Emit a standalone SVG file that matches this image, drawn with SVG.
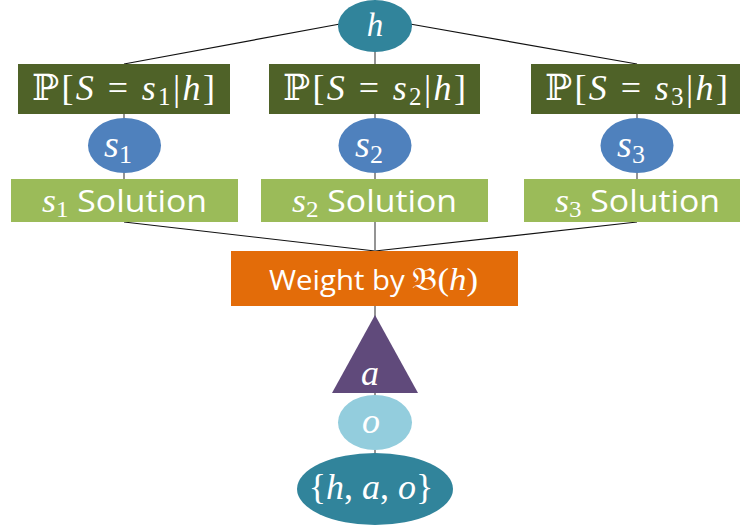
<svg xmlns="http://www.w3.org/2000/svg" width="740" height="527" viewBox="0 0 740 527">
<style>
.m{font-family:"Liberation Serif","DejaVu Serif",serif;fill:#fff}
.it{font-style:italic}
.t{font-family:"Open Sans","Liberation Sans",sans-serif;fill:#fff}
.d{stroke:#111;stroke-width:1.2}
.v{stroke:#707070;stroke-width:1.5}
.pb{fill:#4F6228}
.sb{fill:#9BBB59}
.se{fill:#4F81BD}
</style>
<rect width="740" height="527" fill="#fff"/>
<g id="connectors">
<line class="d" x1="340" y1="24" x2="124" y2="64"/>
<line class="d" x1="410" y1="24" x2="637" y2="64"/>
<line class="v" x1="375" y1="50" x2="375" y2="64"/>
<line class="v" x1="124" y1="114" x2="124" y2="179"/>
<line class="v" x1="375" y1="114" x2="375" y2="179"/>
<line class="v" x1="637" y1="114" x2="637" y2="179"/>
<line class="d" x1="124" y1="222" x2="375" y2="251"/>
<line class="d" x1="637" y1="222" x2="375" y2="251"/>
<line class="v" x1="375" y1="222" x2="375" y2="251"/>
<line class="v" x1="375" y1="306" x2="375" y2="320"/>
<line class="v" x1="375" y1="390" x2="375" y2="398"/>
<line class="v" x1="375" y1="447" x2="375" y2="456"/>
</g>
<g id="h">
<ellipse cx="375" cy="26" rx="37" ry="26" fill="#31849B"/>
<text class="m it" x="375" y="36" font-size="33" text-anchor="middle">h</text>
</g>
<g id="p1">
<rect class="pb" x="18" y="64" width="212" height="50"/>
<text class="m" x="32" y="100" font-size="36" textLength="183" lengthAdjust="spacing">ℙ[<tspan class="it">S</tspan> = <tspan class="it">s</tspan><tspan font-size="25" dy="5">1</tspan><tspan dy="-5">|</tspan><tspan class="it">h</tspan>]</text>
</g>
<g id="p2">
<rect class="pb" x="269" y="64" width="211" height="50"/>
<text class="m" x="283" y="100" font-size="36" textLength="183" lengthAdjust="spacing">ℙ[<tspan class="it">S</tspan> = <tspan class="it">s</tspan><tspan font-size="25" dy="5">2</tspan><tspan dy="-5">|</tspan><tspan class="it">h</tspan>]</text>
</g>
<g id="p3">
<rect class="pb" x="531" y="64" width="212" height="50"/>
<text class="m" x="545" y="100" font-size="36" textLength="183" lengthAdjust="spacing">ℙ[<tspan class="it">S</tspan> = <tspan class="it">s</tspan><tspan font-size="25" dy="5">3</tspan><tspan dy="-5">|</tspan><tspan class="it">h</tspan>]</text>
</g>
<g id="s1">
<ellipse class="se" cx="124.5" cy="145.5" rx="36.5" ry="27.5"/>
<text class="m it" x="118" y="157" font-size="38" text-anchor="middle">s<tspan font-style="normal" font-size="26" dy="6">1</tspan></text>
</g>
<g id="s2">
<ellipse class="se" cx="375" cy="145.5" rx="36.5" ry="27.5"/>
<text class="m it" x="369" y="157" font-size="38" text-anchor="middle">s<tspan font-style="normal" font-size="26" dy="6">2</tspan></text>
</g>
<g id="s3">
<ellipse class="se" cx="637" cy="145.5" rx="36.5" ry="27.5"/>
<text class="m it" x="631" y="157" font-size="38" text-anchor="middle">s<tspan font-style="normal" font-size="26" dy="6">3</tspan></text>
</g>
<g id="sol1">
<rect class="sb" x="11" y="179" width="227" height="43"/>
<text x="42" y="212" textLength="165" lengthAdjust="spacingAndGlyphs"><tspan class="m it" font-size="33">s</tspan><tspan class="m" font-size="23" dy="5">1</tspan><tspan class="t" font-size="31" dy="-5"> Solution</tspan></text>
</g>
<g id="sol2">
<rect class="sb" x="261" y="179" width="227" height="43"/>
<text x="292" y="212" textLength="165" lengthAdjust="spacingAndGlyphs"><tspan class="m it" font-size="33">s</tspan><tspan class="m" font-size="23" dy="5">2</tspan><tspan class="t" font-size="31" dy="-5"> Solution</tspan></text>
</g>
<g id="sol3">
<rect class="sb" x="524" y="179" width="227" height="43"/>
<text x="555" y="212" textLength="165" lengthAdjust="spacingAndGlyphs"><tspan class="m it" font-size="33">s</tspan><tspan class="m" font-size="23" dy="5">3</tspan><tspan class="t" font-size="31" dy="-5"> Solution</tspan></text>
</g>
<g id="weight">
<rect x="231" y="251" width="287" height="55" fill="#E36C09"/>
<text x="269" y="290" textLength="209" lengthAdjust="spacingAndGlyphs"><tspan class="t" font-size="27">Weight by </tspan><tspan class="m" font-size="32">𝔅(<tspan class="it">h</tspan>)</tspan></text>
</g>
<g id="a">
<polygon points="375,315 418,393 332,393" fill="#604A7B"/>
<text class="m it" x="370" y="385" font-size="36" text-anchor="middle">a</text>
</g>
<g id="o">
<ellipse cx="375" cy="422.5" rx="37" ry="27.5" fill="#93CDDD"/>
<text class="m it" x="371" y="433" font-size="36" text-anchor="middle">o</text>
</g>
<g id="hao">
<ellipse cx="375" cy="489" rx="78" ry="36" fill="#31849B"/>
<text class="m" x="371" y="499" font-size="36" text-anchor="middle">{<tspan class="it">h</tspan>, <tspan class="it">a</tspan>, <tspan class="it">o</tspan>}</text>
</g>
</svg>
